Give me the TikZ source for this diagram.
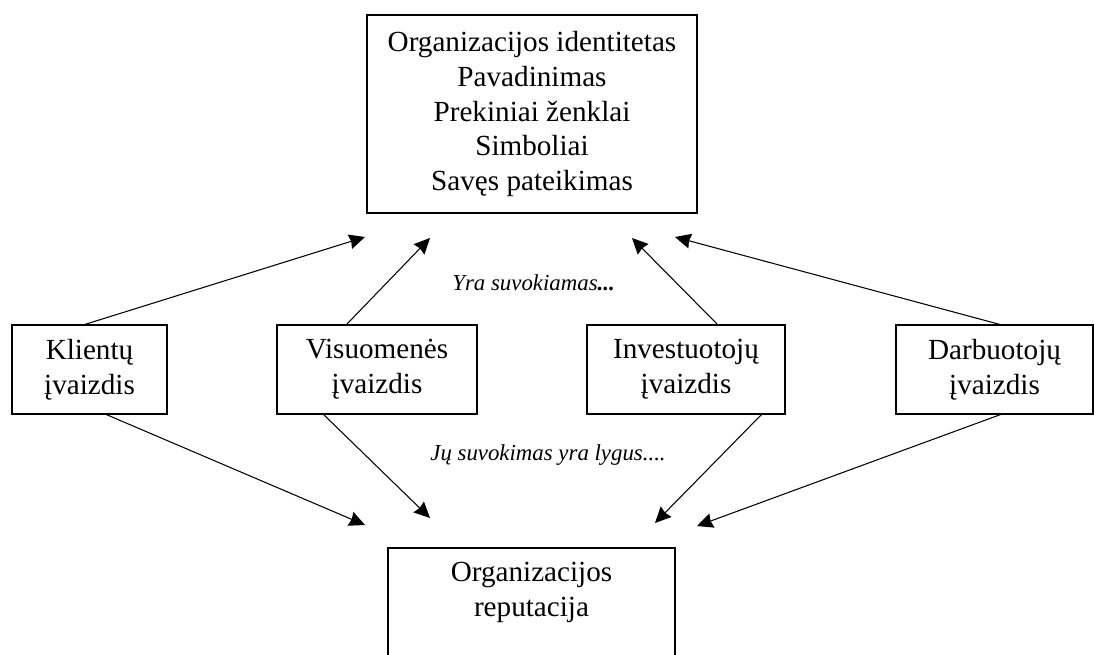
\documentclass[tikz,border=0pt]{standalone}
\usepackage{fontspec}
\setmainfont{Liberation Serif}
\usetikzlibrary{arrows.meta}

\begin{document}
\begin{tikzpicture}[x=0.02cm,y=-0.02cm,
  box/.style={draw,line width=0.85pt,inner sep=0pt,outer sep=0pt,align=center,
    font=\fontsize{16.6}{19.8}\selectfont},
  smallbox/.style={box,minimum height=1.78cm},
  link/.style={line width=0.6pt,-{Stealth[length=9pt,width=8.5pt,inset=0.8pt]}},
  remark/.style={anchor=west,inner sep=0pt,font=\fontsize{13}{15}\selectfont\itshape}]

\useasboundingbox (0,0) rectangle (1094,654);

\node[box,minimum width=6.6cm,minimum height=3.96cm] (ident) at (532,114)
  {Organizacijos identitetas\\Pavadinimas\\Prekiniai ženklai\\Simboliai\\Savęs pateikimas};

\node[smallbox,minimum width=3.1cm] (klient) at (89.5,369.5) {Klientų\\įvaizdis};
\node[smallbox,minimum width=4.0cm] (visuom) at (377,369.5) {Visuomenės\\įvaizdis};
\node[smallbox,minimum width=3.96cm] (invest) at (686,369.5) {Investuotojų\\įvaizdis};
\node[smallbox,minimum width=3.94cm] (darbuot) at (994.5,369.5) {Darbuotojų\\įvaizdis};

\node[box,minimum width=5.74cm,minimum height=2.56cm] (reput) at (531.5,612)
  {Organizacijos\\reputacija\\\strut};

\coordinate (kt) at (365,237);
\coordinate (vt) at (430,238);
\coordinate (it) at (632,238);
\coordinate (dt) at (675,237);
\coordinate (kb) at (365,525);
\coordinate (vb) at (430,518);
\coordinate (ib) at (655,523);
\coordinate (db) at (697,526);

\draw[link] ([xshift=-0.13cm]klient.north) -- (kt);
\draw[link] ([xshift=-0.62cm]visuom.north) -- (vt);
\draw[link] ([xshift=0.64cm]invest.north) -- (it);
\draw[link] ([xshift=0.15cm]darbuot.north) -- (dt);

\draw[link] ([xshift=0.31cm]klient.south) -- (kb);
\draw[link] ([xshift=-1.08cm]visuom.south) -- (vb);
\draw[link] ([xshift=1.52cm]invest.south) -- (ib);
\draw[link] ([xshift=0.15cm]darbuot.south) -- (db);

\node[remark] (seen) at (452,283) {Yra suvokiamas\textbf{...}};
\node[remark] (equal) at (430,455) {Jų suvokimas yra lygus....};

\end{tikzpicture}
\end{document}
